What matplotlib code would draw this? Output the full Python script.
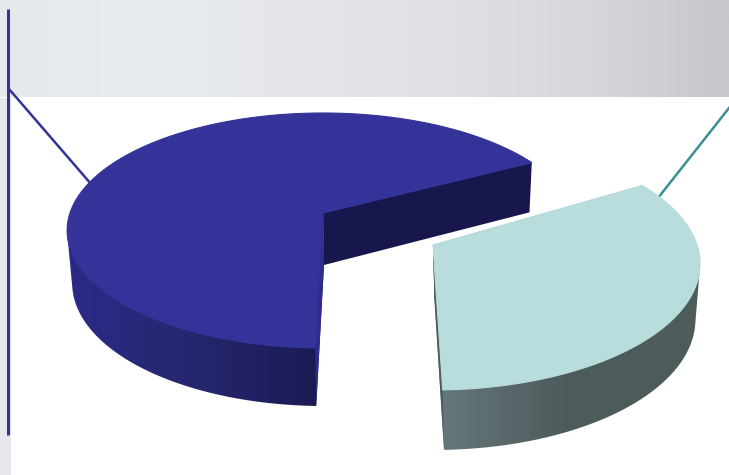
import numpy as np
import matplotlib
matplotlib.use('Agg')
import matplotlib.pyplot as plt
from matplotlib.colors import LinearSegmentedColormap
from matplotlib.patches import Polygon, Rectangle

# pie shares in percent
categories = ['large share', 'small share']
shares = [66.8, 33.2]

# wall shading runs left to right across the visible rim
BLUE_TOP = '#333399'
BLUE_WALL = '#17174d'
BLUE_EDGE = '#2c2c8c'
BLUE_RIM = ['#2b2b88', '#26266f', '#1b1a52']
MINT_TOP = '#b9dcdd'
MINT_WALL = '#4d5b5b'
MINT_RIM = ['#66797d', '#4d5b5b', '#4d5b5b']
TEAL = '#3b8f95'

# perspective: far side of each disc is squeezed by this factor
PERSP = 0.149


def project(angles, disc):
    # disc = (centre x, centre y, x radius, y radius)
    cx, cy, a, b = disc
    t = np.radians(angles)
    x, y = np.cos(t), np.sin(t)
    w = 1 / (1 + PERSP * y)
    return cx + a * x * w, cy - b * y * w


def hull(points):
    # monotone chain, the rim silhouette is the outline of both arcs together
    pts = sorted(set(points))

    def half(seq):
        out = []
        for p in seq:
            while len(out) > 1:
                (ax_, ay), (bx_, by_) = out[-2], out[-1]
                if (bx_ - ax_) * (p[1] - ay) - (by_ - ay) * (p[0] - ax_) > 0:
                    break
                out.pop()
            out.append(p)
        return out[:-1]

    return half(pts) + half(pts[::-1])


def draw_slice(ax, start, share, top, bottom, top_col, rim, wall_col, seam_col):
    angles = np.linspace(start, start + share * 3.6, 360)
    tx, ty = project(angles, top)
    bx, by = project(angles, bottom)
    apex_t = top[:2]
    apex_b = bottom[:2]

    # only the near half of the rim can be seen
    near = np.sin(np.radians(angles)) < 0.03
    rim_pts = list(zip(tx[near], ty[near])) + list(zip(bx[near], by[near])) + [apex_t, apex_b]
    rim_pts = [(float(x), float(y)) for x, y in rim_pts]
    shape = Polygon(hull(rim_pts), fc='none', ec='none', transform=ax.transData)
    ax.add_patch(shape)
    cmap = LinearSegmentedColormap.from_list('rim', rim)
    x0, x1 = min(p[0] for p in rim_pts), max(p[0] for p in rim_pts)
    y0, y1 = min(p[1] for p in rim_pts), max(p[1] for p in rim_pts)
    img = ax.imshow(np.linspace(0, 1, 256)[None, :], cmap=cmap, extent=(x0, x1, y1, y0),
                    aspect='auto', zorder=2)
    img.set_clip_path(shape)

    ax.add_patch(Polygon([apex_t, (tx[0], ty[0]), (bx[0], by[0]), apex_b],
                         fc=wall_col, ec='none', zorder=3))
    ax.add_patch(Polygon([apex_t, (tx[-1], ty[-1]), (bx[-1], by[-1]), apex_b],
                         fc=seam_col, ec='none', zorder=3))

    ax.add_patch(Polygon(list(zip(tx, ty)) + [apex_t], fc=top_col, ec=top_col, lw=0.8, zorder=4))


fig = plt.figure(figsize=(7.29, 4.75), dpi=100)
ax = fig.add_axes([0, 0, 1, 1])

# grey banner and left margin behind the white panel
banner = LinearSegmentedColormap.from_list(
    'banner', ['#e6e9ec', '#e9ecef', '#e4e6e9', '#dfe1e4', '#d8d8dc', '#c6c6cb'])
ax.imshow(np.linspace(0, 1, 256)[None, :], cmap=banner, extent=(0, 729, 97.5, 0),
          aspect='auto', zorder=0)
ax.add_patch(Rectangle((0, 97.5), 11, 378, fc='#e6e8eb', ec='none', zorder=0))
ax.add_patch(Rectangle((11, 97.5), 718, 378, fc='white', ec='none', zorder=0))

# leader lines
ax.plot([8, 8], [9, 435], color=BLUE_TOP, lw=2.2, solid_capstyle='butt', zorder=1)
ax.plot([9, 91], [89, 184], color=BLUE_TOP, lw=1.8, zorder=1)
ax.plot([729, 658], [108, 198], color=TEAL, lw=1.8, zorder=1)

draw_slice(ax, 28.0, shares[0],
           (323, 213, 253, 114.9), (324, 265, 249, 120),
           BLUE_TOP, BLUE_RIM, BLUE_WALL, BLUE_EDGE)
draw_slice(ax, -88.2, shares[1],
           (433, 245, 264, 123.4), (434.5, 300, 258, 127.6),
           MINT_TOP, MINT_RIM, MINT_WALL, MINT_WALL)

ax.set_xlim(0, 729)
ax.set_ylim(475, 0)
ax.axis('off')

fig.savefig('out.png', dpi=100)
